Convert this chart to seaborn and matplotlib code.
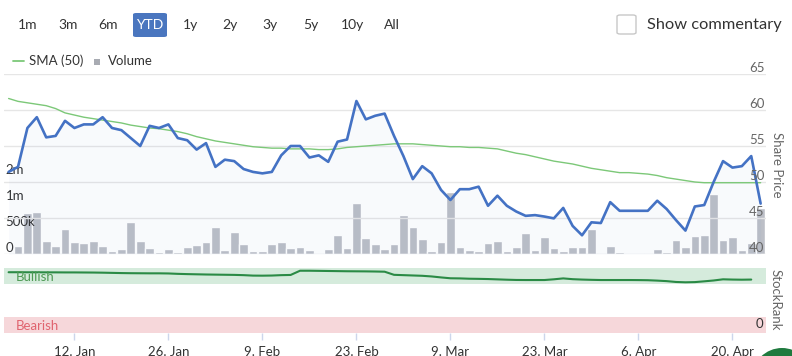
import numpy as np
import pandas as pd
import matplotlib
matplotlib.use("Agg")
import matplotlib.pyplot as plt
from matplotlib.patches import FancyBboxPatch, Rectangle, Ellipse
from matplotlib.lines import Line2D
import seaborn as sns

# trading days only (ordinal axis), 1 Jan skipped
dates = pd.bdate_range("2014-12-31", "2015-04-23", freq="C", holidays=["2015-01-01"])

price = [51.4, 52.1, 57.5, 59.0, 56.2, 56.4, 58.5, 57.5, 58.0, 58.0, 59.0,
         57.5, 57.2, 56.1, 55.0, 57.8, 57.5, 58.0, 56.1, 55.8, 54.5,
         55.4, 52.1, 53.1, 52.9, 51.8, 51.4, 51.2, 51.4, 53.7, 55.0,
         55.0, 53.4, 53.7, 52.8, 55.6, 55.9, 61.25, 58.7, 59.2, 59.5,
         56.4, 53.6, 50.4, 52.2, 51.2, 48.9, 47.5, 49.0, 49.0, 49.35,
         46.7, 48.1, 46.7, 45.9, 45.3, 45.4, 45.2, 44.95, 46.4, 43.9,
         42.6, 44.4, 44.3, 47.2, 46.0, 46.0, 46.0, 46.0, 47.4, 46.25,
         44.7, 43.25, 46.6, 46.8, 50.0, 52.9, 52.0, 52.2, 53.6, 47.0]

sma50 = [61.6, 61.2, 61.0, 60.8, 60.6, 60.2, 59.6, 59.3, 59.0, 58.8, 58.6,
         58.4, 58.2, 57.9, 57.7, 57.5, 57.4, 57.2, 57.0, 56.7, 56.3,
         56.0, 55.7, 55.5, 55.3, 55.1, 54.9, 54.8, 54.7, 54.7, 54.6,
         54.6, 54.6, 54.5, 54.5, 54.6, 54.8, 54.9, 55.0, 55.1, 55.2,
         55.3, 55.3, 55.3, 55.2, 55.1, 55.0, 54.9, 54.9, 54.8, 54.8,
         54.7, 54.6, 54.3, 54.0, 53.8, 53.5, 53.2, 52.9, 52.7, 52.5,
         52.2, 51.9, 51.7, 51.5, 51.3, 51.3, 51.2, 51.1, 50.9, 50.6,
         50.4, 50.2, 50.0, 49.9, 49.9, 49.9, 49.9, 49.9, 49.9, 49.9]

# volume in thousands of shares
volume_k = [0, 154, 794, 813, 250, 160, 481, 231, 212, 250, 160,
            64, 102, 609, 250, 122, 45, 102, 45, 141, 167,
            231, 513, 77, 417, 199, 58, 58, 186, 231, 115,
            141, 77, 12, 96, 372, 122, 981, 308, 186, 93,
            186, 750, 525, 282, 58, 225, 1187, 141, 77, 58,
            205, 244, 58, 141, 398, 77, 333, 122, 58, 141,
            141, 481, 20, 160, 45, 0, 0, 20, 105, 30,
            270, 141, 352, 372, 1154, 263, 333, 77, 212, 880]

stockrank = [93.5, 93.5, 93.4, 93.4, 93.3, 93.3, 93.2, 93.2, 93.1, 93.0, 92.8,
             92.5, 92.2, 92.0, 91.9, 91.8, 91.8, 91.6, 91.0, 90.6, 90.3,
             90.0, 89.8, 89.6, 89.4, 89.0, 88.3, 88.2, 88.4, 89.0, 89.3,
             95.8, 95.8, 95.6, 95.4, 95.2, 95.0, 94.9, 94.8, 94.6, 94.3,
             89.5, 89.0, 88.5, 88.0, 87.0, 85.5, 84.2, 84.0, 83.5, 83.3,
             83.0, 82.5, 82.0, 81.6, 81.5, 81.5, 81.5, 82.6, 84.0, 82.8,
             82.2, 81.8, 81.5, 81.5, 81.5, 81.5, 81.4, 81.2, 80.6, 79.8,
             78.5, 78.0, 78.3, 79.5, 80.8, 82.6, 82.2, 82.0, 82.2, np.nan]

tick_dates = ["2015-01-12", "2015-01-26", "2015-02-09", "2015-02-23",
              "2015-03-09", "2015-03-23", "2015-04-06", "2015-04-20"]
tick_labels = ["12. Jan", "26. Jan", "9. Feb", "23. Feb",
               "9. Mar", "23. Mar", "6. Apr", "20. Apr"]
price_ticks = [40, 45, 50, 55, 60, 65]
volume_ticks = [0, 500, 1000, 1500]
volume_tick_labels = ["0", "500k", "1m", "2m"]
range_buttons = ["1m", "3m", "6m", "YTD", "1y", "2y", "3y", "5y", "10y", "All"]
button_x = [28, 68, 108, 150, 190, 230, 270, 311, 352, 392]

BLUE = "#4472c4"
GREEN_SMA = "#7cc878"
BAR = "#bcbfc7"
TXT = "#333333"
GREY = "#666666"

sns.set_theme(style="white")
plt.rcParams["font.family"] = ["Lato", "DejaVu Sans"]

W, H = 792, 356
fig = plt.figure(figsize=(W / 100, H / 100), dpi=100)


def rect(x0, y0, x1, y1):
    # pixel box (top-left origin) -> figure fraction
    return [x0 / W, 1 - y1 / H, (x1 - x0) / W, (y1 - y0) / H]


def strip(a):
    for s in a.spines.values():
        s.set_visible(False)
    a.set_xlabel("")
    a.set_ylabel("")
    a.set_yticks([])


df = pd.DataFrame({"pos": np.arange(len(dates)), "price": price, "sma": sma50,
                   "vol": volume_k, "rank": stockrank})
xlim = (-0.49, len(dates) - 1 + 0.57)

# volume pane (drawn first, underneath)
ax_vol = fig.add_axes(rect(4, 74, 766, 254))
sns.barplot(data=df, x="pos", y="vol", native_scale=True, width=0.92,
            color=BAR, saturation=1, ax=ax_vol, zorder=2)
ax_vol.set_ylim(0, 180 / 26 * 500)
ax_vol.set_xlim(*xlim)
ax_vol.set_axis_off()

# price pane on top
ax = fig.add_axes(rect(4, 74, 766, 254))
ax.patch.set_visible(False)
ax.fill_between(df["pos"], df["price"], 40, color=BLUE, alpha=0.035, lw=0)
sns.lineplot(data=df, x="pos", y="sma", color=GREEN_SMA, lw=1.0, ax=ax)
sns.lineplot(data=df, x="pos", y="price", color=BLUE, lw=1.9, ax=ax)
ax.set_ylim(40, 65)
ax.set_xlim(*xlim)
for v in price_ticks:
    ax.axhline(v, color="#e6e6e6", lw=1, zorder=0)
strip(ax)
ax.set_xticks([])

for v in price_ticks:
    ax.annotate(str(v), xy=(1, v), xycoords=("axes fraction", "data"),
                xytext=(-1, 4.5), textcoords="offset points", ha="right",
                va="center", fontsize=9.5, color=GREY, annotation_clip=False)
for v, lab in zip(volume_ticks, volume_tick_labels):
    ax_vol.annotate(lab, xy=(0, v), xycoords=("axes fraction", "data"),
                    xytext=(1, 4.5), textcoords="offset points", ha="left",
                    va="center", fontsize=9.5, color=TXT, annotation_clip=False)
fig.text(777 / W, 1 - 165 / H, "Share Price", rotation=270, ha="center",
         va="center", fontsize=9.5, color=GREY)

# StockRank pane
axr = fig.add_axes(rect(4, 268, 766, 333))
axr.axhspan(75, 100, color="#d5ebdc", lw=0, zorder=0)
axr.axhspan(0, 25, color="#f6d7da", lw=0, zorder=0)
sns.lineplot(data=df, x="pos", y="rank", color="#2a8a45", lw=1.5, ax=axr)
axr.set_ylim(0, 100)
axr.set_xlim(*xlim)
strip(axr)
tick_pos = dates.get_indexer(pd.to_datetime(tick_dates))
axr.set_xticks(tick_pos)
axr.set_xticklabels(tick_labels, fontsize=9.5, color=TXT)
axr.tick_params(axis="x", bottom=True, length=5, width=1, color="#ccd6eb",
                pad=4, direction="out")
axr.text(0.016, 77, "Bullish", transform=axr.get_yaxis_transform(),
         fontsize=9.5, color="#4e9a55", va="bottom")
axr.text(0.016, 2, "Bearish", transform=axr.get_yaxis_transform(),
         fontsize=9.5, color="#e0646f", va="bottom")
axr.text(0.997, 4, "0", transform=axr.get_yaxis_transform(),
         fontsize=9.5, color=TXT, ha="right", va="bottom")
fig.text(776 / W, 1 - 300 / H, "StockRank", rotation=270, ha="center",
         va="center", fontsize=9.5, color=GREY)

# range selector buttons
for lab, bx in zip(range_buttons, button_x):
    if lab == "YTD":
        fig.patches.append(FancyBboxPatch((133 / W, 1 - 37 / H), 34 / W, 24 / H,
                                          boxstyle="round,pad=0,rounding_size=0.004",
                                          transform=fig.transFigure,
                                          fc="#4a76bf", ec="none"))
        fig.text(bx / W, 1 - 25 / H, lab, ha="center", va="center",
                 fontsize=10, color="white")
    else:
        fig.text(bx / W, 1 - 25 / H, lab, ha="center", va="center",
                 fontsize=10, color=TXT)

# commentary checkbox
fig.patches.append(FancyBboxPatch((617 / W, 1 - 34 / H), 19 / W, 19 / H,
                                  boxstyle="round,pad=0,rounding_size=0.004",
                                  transform=fig.transFigure,
                                  fc="white", ec="#c8c8c8", lw=1))
fig.text(647 / W, 1 - 25 / H, "Show commentary", ha="left", va="center",
         fontsize=11.8, color=TXT)

# legend row
fig.lines.append(Line2D([13 / W, 24 / W], [1 - 61 / H, 1 - 61 / H],
                        transform=fig.transFigure, color=GREEN_SMA, lw=1.3))
fig.text(29 / W, 1 - 61 / H, "SMA (50)", ha="left", va="center",
         fontsize=9.5, color=TXT)
fig.patches.append(Rectangle((94 / W, 1 - 65 / H), 6 / W, 6 / H,
                             transform=fig.transFigure, fc="#a8abb2", ec="none"))
fig.text(108 / W, 1 - 61 / H, "Volume", ha="left", va="center",
         fontsize=9.5, color=TXT)

# widget bubble peeking at bottom right
fig.patches.append(Ellipse((782 / W, 1 - 378 / H), 60 / W, 60 / H,
                           transform=fig.transFigure, fc="#1f7a3e", ec="none"))

fig.savefig("out.png", dpi=100)
